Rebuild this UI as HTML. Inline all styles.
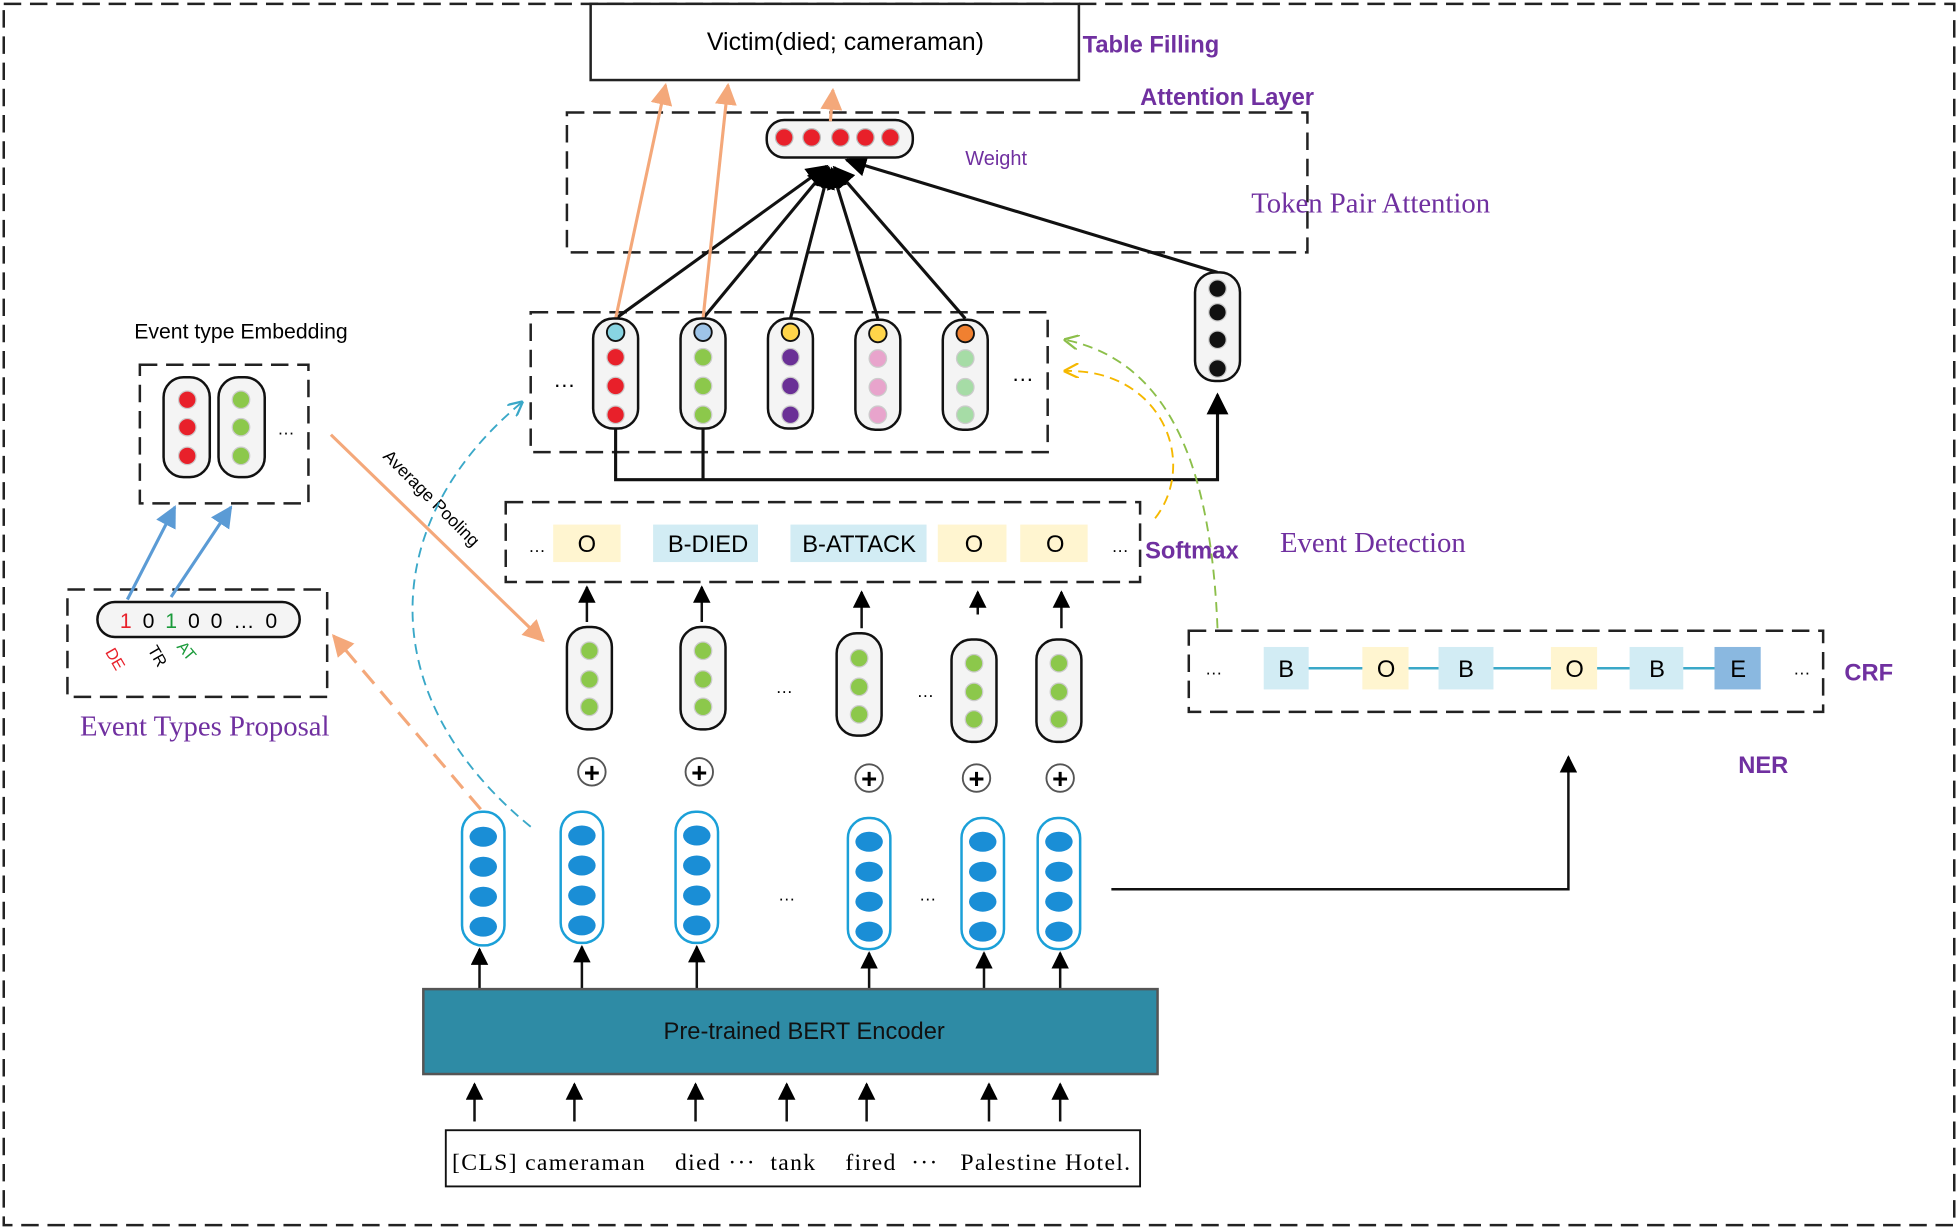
<!DOCTYPE html>
<html><head><meta charset="utf-8"><style>html,body{margin:0;padding:0;background:#fff}svg{display:block}</style></head><body>
<svg width="1958" height="1229" viewBox="0 0 1568 984" xmlns="http://www.w3.org/2000/svg" font-family="Liberation Sans, sans-serif">
<defs>
<marker id="ab" viewBox="0 0 10 10" refX="9" refY="5" markerWidth="7" markerHeight="7" orient="auto"><path d="M0,0L10,5L0,10z" fill="#000"/></marker>
<marker id="ao" viewBox="0 0 10 10" refX="9" refY="5" markerWidth="7" markerHeight="7" orient="auto"><path d="M0,0L10,5L0,10z" fill="#f4a87a"/></marker>
<marker id="abl" viewBox="0 0 10 10" refX="9" refY="5" markerWidth="7" markerHeight="7" orient="auto"><path d="M0,0L10,5L0,10z" fill="#5b9bd5"/></marker>
<marker id="ac" viewBox="0 0 10 10" refX="9" refY="5" markerWidth="8" markerHeight="8" orient="auto"><path d="M0,0L10,5L0,10" fill="none" stroke="#3aa8c8" stroke-width="1.5"/></marker>
<marker id="ag" viewBox="0 0 10 10" refX="9" refY="5" markerWidth="8" markerHeight="8" orient="auto"><path d="M0,0L10,5L0,10" fill="none" stroke="#8cbf4a" stroke-width="1.5"/></marker>
<marker id="ay" viewBox="0 0 10 10" refX="9" refY="5" markerWidth="8" markerHeight="8" orient="auto"><path d="M0,0L10,5L0,10" fill="none" stroke="#f5b800" stroke-width="1.5"/></marker>
</defs>
<g fill="none" stroke="#222" stroke-width="2" stroke-dasharray="14,7">
<rect x="3" y="3" width="1562" height="978"/>
<rect x="454" y="90" width="593" height="112"/>
<rect x="425" y="250" width="414" height="112"/>
<rect x="112" y="292" width="135" height="111"/>
<rect x="54" y="472" width="208" height="86"/>
<rect x="405" y="402" width="508" height="64"/>
<rect x="952" y="505" width="508" height="65"/>
</g>
<rect x="473" y="3" width="391" height="61" fill="#fff" stroke="#222" stroke-width="2"/>
<text x="677" y="40" font-size="20" text-anchor="middle">Victim(died; cameraman)</text>
<g fill="#7030a0" font-weight="bold" font-size="19">
<text x="867" y="42">Table Filling</text><text x="913" y="84">Attention Layer</text>
<text x="917" y="447">Softmax</text><text x="1477" y="545">CRF</text><text x="1392" y="619">NER</text>
</g>
<g fill="#7030a0" font-family="Liberation Serif, serif" font-size="23">
<text x="1002" y="170">Token Pair Attention</text><text x="1025" y="442">Event Detection</text>
<text x="164" y="589" text-anchor="middle">Event Types Proposal</text>
</g>
<text x="773" y="132" font-size="16" fill="#7030a0">Weight</text>
<g stroke="#111" stroke-width="2.5" fill="none">
<line x1="493" y1="255" x2="662" y2="133" marker-end="url(#ab)"/>
<line x1="563" y1="255" x2="663" y2="134" marker-end="url(#ab)"/>
<line x1="633" y1="255" x2="664" y2="135" marker-end="url(#ab)"/>
<line x1="703" y1="255" x2="666" y2="135" marker-end="url(#ab)"/>
<line x1="773" y1="255" x2="668" y2="134" marker-end="url(#ab)"/>
<line x1="975" y1="218" x2="678" y2="128" marker-end="url(#ab)"/>
<path d="M493,343V384H975V316" marker-end="url(#ab)"/><path d="M563,343V384"/>
</g>
<rect x="614" y="96" width="117" height="30" rx="14" fill="#f4f4f4" stroke="#111" stroke-width="2"/>
<g fill="#e8202a" stroke="#bbb"><circle cx="628" cy="110" r="7"/><circle cx="650" cy="110" r="7"/><circle cx="673" cy="110" r="7"/><circle cx="693" cy="110" r="7"/><circle cx="713" cy="110" r="7"/></g>
<g stroke="#f4a87a" stroke-width="2.5"><line x1="493" y1="255" x2="533" y2="68" marker-end="url(#ao)"/><line x1="563" y1="255" x2="583" y2="68" marker-end="url(#ao)"/><line x1="665" y1="97" x2="667" y2="72" marker-end="url(#ao)"/></g>
<g stroke="#111" stroke-width="2" fill="#f4f4f4">
<rect x="475" y="255" width="36" height="88" rx="16"/><rect x="545" y="255" width="36" height="88" rx="16"/><rect x="615" y="255" width="36" height="88" rx="16"/><rect x="685" y="256" width="36" height="88" rx="16"/><rect x="755" y="256" width="36" height="88" rx="16"/>
<rect x="957" y="218" width="36" height="87" rx="16"/>
<rect x="131" y="302" width="37" height="80" rx="16"/><rect x="175" y="302" width="37" height="80" rx="16"/>
<rect x="78" y="482" width="162" height="28" rx="14"/>
</g>
<g stroke="#111" stroke-width="1.5">
<circle cx="493" cy="266" r="7" fill="#88d4e2"/><circle cx="563" cy="266" r="7" fill="#9ec4e8"/><circle cx="633" cy="266" r="7" fill="#ffd54a"/><circle cx="703" cy="267" r="7" fill="#ffd54a"/><circle cx="773" cy="267" r="7" fill="#f08030"/>
</g>
<g stroke="#ccc">
<g fill="#e8202a"><circle cx="493" cy="286" r="7"/><circle cx="493" cy="309" r="7"/><circle cx="493" cy="332" r="7"/><circle cx="150" cy="320" r="7"/><circle cx="150" cy="342" r="7"/><circle cx="150" cy="365" r="7"/></g>
<g fill="#8cc84b"><circle cx="563" cy="286" r="7"/><circle cx="563" cy="309" r="7"/><circle cx="563" cy="332" r="7"/><circle cx="193" cy="320" r="7"/><circle cx="193" cy="342" r="7"/><circle cx="193" cy="365" r="7"/></g>
<g fill="#6a3096"><circle cx="633" cy="286" r="7"/><circle cx="633" cy="309" r="7"/><circle cx="633" cy="332" r="7"/></g>
<g fill="#e8a4cc"><circle cx="703" cy="287" r="7"/><circle cx="703" cy="310" r="7"/><circle cx="703" cy="332" r="7"/></g>
<g fill="#a6dca6"><circle cx="773" cy="287" r="7"/><circle cx="773" cy="310" r="7"/><circle cx="773" cy="332" r="7"/></g>
<g fill="#111"><circle cx="975" cy="231" r="7"/><circle cx="975" cy="250" r="7"/><circle cx="975" cy="272" r="7"/><circle cx="975" cy="295" r="7"/></g>
</g>
<g font-size="18"><text x="443" y="310">…</text><text x="810" y="305">…</text><text x="222" y="348" font-size="14">…</text></g>
<text x="193" y="271" font-size="17" text-anchor="middle">Event type Embedding</text>
<text x="96" y="503" font-size="17" textLength="126" lengthAdjust="spacing"><tspan fill="#e8202a">1</tspan> 0 <tspan fill="#1a9a3a">1</tspan> 0 0 … 0</text>
<text transform="translate(84,522) rotate(60)" font-size="13" fill="#e8202a">DE</text>
<text transform="translate(118,520) rotate(60)" font-size="13">TR</text>
<text transform="translate(141,518) rotate(50)" font-size="13" fill="#1a9a3a">AT</text>
<g stroke="#5b9bd5" stroke-width="2.5"><line x1="102" y1="480" x2="140" y2="406" marker-end="url(#abl)"/><line x1="137" y1="478" x2="185" y2="406" marker-end="url(#abl)"/></g>
<line x1="265" y1="348" x2="435" y2="513" stroke="#f4a87a" stroke-width="2.5" marker-end="url(#ao)"/>
<text transform="translate(306,366) rotate(45)" font-size="14">Average Pooling</text>
<path d="M425,662C300,560 300,420 418,322" fill="none" stroke="#3aa8c8" stroke-width="1.5" stroke-dasharray="8,5" marker-end="url(#ac)"/>
<line x1="385" y1="648" x2="267" y2="509" stroke="#f4a87a" stroke-width="2.5" stroke-dasharray="14,8" marker-end="url(#ao)"/>
<path d="M975,503C970,380 940,290 853,272" fill="none" stroke="#8cbf4a" stroke-width="1.5" stroke-dasharray="8,5" marker-end="url(#ag)"/>
<path d="M925,415C960,370 930,295 853,297" fill="none" stroke="#f5b800" stroke-width="1.5" stroke-dasharray="8,5" marker-end="url(#ay)"/>
<g font-size="19" text-anchor="middle">
<rect x="443" y="420" width="54" height="30" fill="#fff5d0"/><text x="470" y="442">O</text>
<rect x="523" y="420" width="84" height="30" fill="#d2ecf4"/><text x="567" y="442">B-DIED</text>
<rect x="633" y="420" width="109" height="30" fill="#d2ecf4"/><text x="688" y="442">B-ATTACK</text>
<rect x="751" y="420" width="55" height="30" fill="#fff5d0"/><text x="780" y="442">O</text>
<rect x="817" y="420" width="54" height="30" fill="#fff5d0"/><text x="845" y="442">O</text>
</g>
<g font-size="14"><text x="423" y="442">…</text><text x="890" y="442">…</text></g>
<g stroke="#111" stroke-width="2" fill="#f4f4f4">
<rect x="454" y="502" width="36" height="82" rx="16"/><rect x="545" y="502" width="36" height="82" rx="16"/><rect x="670" y="507" width="36" height="82" rx="16"/><rect x="762" y="512" width="36" height="82" rx="16"/><rect x="830" y="512" width="36" height="82" rx="16"/>
</g>
<g fill="#8cc84b" stroke="#ccc">
<circle cx="472" cy="521" r="7"/><circle cx="472" cy="544" r="7"/><circle cx="472" cy="566" r="7"/>
<circle cx="563" cy="521" r="7"/><circle cx="563" cy="544" r="7"/><circle cx="563" cy="566" r="7"/>
<circle cx="688" cy="527" r="7"/><circle cx="688" cy="550" r="7"/><circle cx="688" cy="572" r="7"/>
<circle cx="780" cy="531" r="7"/><circle cx="780" cy="554" r="7"/><circle cx="780" cy="576" r="7"/>
<circle cx="848" cy="531" r="7"/><circle cx="848" cy="554" r="7"/><circle cx="848" cy="576" r="7"/>
</g>
<g stroke="#111" stroke-width="2"><line x1="470" y1="498" x2="470" y2="470" marker-end="url(#ab)"/><line x1="562" y1="498" x2="562" y2="470" marker-end="url(#ab)"/><line x1="690" y1="503" x2="690" y2="474" marker-end="url(#ab)"/><line x1="783" y1="492" x2="783" y2="474" marker-end="url(#ab)"/><line x1="850" y1="503" x2="850" y2="474" marker-end="url(#ab)"/></g>
<g font-size="14"><text x="621" y="555">…</text><text x="734" y="558">…</text><text x="623" y="721">…</text><text x="736" y="721">…</text></g>
<g fill="#fff" stroke="#555" stroke-width="1.5"><circle cx="474" cy="618" r="11"/><circle cx="560" cy="618" r="11"/><circle cx="696" cy="623" r="11"/><circle cx="782" cy="623" r="11"/><circle cx="849" cy="623" r="11"/></g>
<g font-size="22" font-weight="bold" text-anchor="middle"><text x="474" y="626">+</text><text x="560" y="626">+</text><text x="696" y="631">+</text><text x="782" y="631">+</text><text x="849" y="631">+</text></g>
<g stroke="#1ba0d8" stroke-width="2" fill="#fff">
<rect x="370" y="650" width="34" height="107" rx="16"/><rect x="449" y="650" width="34" height="105" rx="16"/><rect x="541" y="650" width="34" height="105" rx="16"/><rect x="679" y="655" width="34" height="105" rx="16"/><rect x="770" y="655" width="34" height="105" rx="16"/><rect x="831" y="655" width="34" height="105" rx="16"/>
</g>
<g fill="#1a8ed6">
<ellipse cx="387" cy="670" rx="11" ry="8"/><ellipse cx="387" cy="694" rx="11" ry="8"/><ellipse cx="387" cy="718" rx="11" ry="8"/><ellipse cx="387" cy="742" rx="11" ry="8"/>
<ellipse cx="466" cy="669" rx="11" ry="8"/><ellipse cx="466" cy="693" rx="11" ry="8"/><ellipse cx="466" cy="717" rx="11" ry="8"/><ellipse cx="466" cy="741" rx="11" ry="8"/>
<ellipse cx="558" cy="669" rx="11" ry="8"/><ellipse cx="558" cy="693" rx="11" ry="8"/><ellipse cx="558" cy="717" rx="11" ry="8"/><ellipse cx="558" cy="741" rx="11" ry="8"/>
<ellipse cx="696" cy="674" rx="11" ry="8"/><ellipse cx="696" cy="698" rx="11" ry="8"/><ellipse cx="696" cy="722" rx="11" ry="8"/><ellipse cx="696" cy="746" rx="11" ry="8"/>
<ellipse cx="787" cy="674" rx="11" ry="8"/><ellipse cx="787" cy="698" rx="11" ry="8"/><ellipse cx="787" cy="722" rx="11" ry="8"/><ellipse cx="787" cy="746" rx="11" ry="8"/>
<ellipse cx="848" cy="674" rx="11" ry="8"/><ellipse cx="848" cy="698" rx="11" ry="8"/><ellipse cx="848" cy="722" rx="11" ry="8"/><ellipse cx="848" cy="746" rx="11" ry="8"/>
</g>
<g stroke="#111" stroke-width="2">
<line x1="384" y1="792" x2="384" y2="760" marker-end="url(#ab)"/><line x1="466" y1="792" x2="466" y2="758" marker-end="url(#ab)"/><line x1="558" y1="792" x2="558" y2="758" marker-end="url(#ab)"/><line x1="696" y1="792" x2="696" y2="763" marker-end="url(#ab)"/><line x1="788" y1="792" x2="788" y2="763" marker-end="url(#ab)"/><line x1="849" y1="792" x2="849" y2="763" marker-end="url(#ab)"/>
<line x1="380" y1="898" x2="380" y2="868" marker-end="url(#ab)"/><line x1="460" y1="898" x2="460" y2="868" marker-end="url(#ab)"/><line x1="557" y1="898" x2="557" y2="868" marker-end="url(#ab)"/><line x1="630" y1="898" x2="630" y2="868" marker-end="url(#ab)"/><line x1="694" y1="898" x2="694" y2="868" marker-end="url(#ab)"/><line x1="792" y1="898" x2="792" y2="868" marker-end="url(#ab)"/><line x1="849" y1="898" x2="849" y2="868" marker-end="url(#ab)"/>
<path d="M890,712H1256V606" fill="none" marker-end="url(#ab)"/>
</g>
<rect x="339" y="792" width="588" height="68" fill="#2e8ba5" stroke="#555" stroke-width="2"/>
<text x="644" y="832" font-size="19" text-anchor="middle" fill="#111">Pre-trained BERT Encoder</text>
<rect x="357" y="905" width="556" height="45" fill="#fff" stroke="#111" stroke-width="1.5"/>
<text x="362" y="937" font-size="19" font-family="Liberation Serif, serif" textLength="543" lengthAdjust="spacing" xml:space="preserve">[CLS] cameraman    died ···  tank    fired  ···   Palestine Hotel.</text>
<line x1="1030" y1="535" x2="1392" y2="535" stroke="#3aa8c8" stroke-width="2"/>
<g font-size="19" text-anchor="middle">
<rect x="1012" y="518" width="36" height="34" fill="#d2ecf4"/><text x="1030" y="542">B</text>
<rect x="1091" y="518" width="37" height="34" fill="#fff5d0"/><text x="1110" y="542">O</text>
<rect x="1152" y="518" width="44" height="34" fill="#d2ecf4"/><text x="1174" y="542">B</text>
<rect x="1242" y="518" width="37" height="34" fill="#fff5d0"/><text x="1261" y="542">O</text>
<rect x="1305" y="518" width="43" height="34" fill="#d2ecf4"/><text x="1327" y="542">B</text>
<rect x="1373" y="518" width="37" height="34" fill="#8ab8e0"/><text x="1392" y="542">E</text>
</g>
<g font-size="14"><text x="965" y="540">…</text><text x="1436" y="540">…</text></g>
</svg>
</body></html>
